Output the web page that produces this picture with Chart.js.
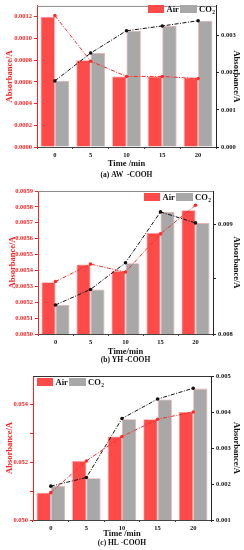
<!DOCTYPE html>
<html>
<head>
<meta charset="utf-8">
<script src="https://cdn.jsdelivr.net/npm/chart.js@4.4.1/dist/chart.umd.min.js"></script>
<style>
  html, body { margin: 0; padding: 0; background: #fff; }
  body { width: 244px; height: 550px; position: relative; overflow: hidden; }
  canvas { position: absolute; left: 0; }
</style>
</head>
<body>
<canvas id="chartA" width="244" height="182" style="top:0px"></canvas>
<canvas id="chartB" width="244" height="184" style="top:182px"></canvas>
<canvas id="chartC" width="244" height="184" style="top:366px"></canvas>
<script>
// shared categories (time, min)
const categories = ['0', '5', '10', '15', '20'];

// (a) AW -COOH
const airA = [0.0012, 0.0008, 0.00065, 0.00065, 0.00064];
const airLineA = [0.00121, 0.00079, 0.00065, 0.00065, 0.00063];
const co2A = [0.00178, 0.00253, 0.00313, 0.00326, 0.0034];
const co2LineA = [0.00178, 0.00253, 0.00313, 0.00326, 0.0034];
const leftTicksA = [0, 0.0002, 0.0004, 0.0006, 0.0008, 0.0010, 0.0012];
const leftLabelsA = ['0.0000', '0.0002', '0.0004', '0.0006', '0.0008', '0.0010', '0.0012'];
const rightTicksA = [0, 0.001, 0.002, 0.003];
const rightLabelsA = ['0.000', '0.001', '0.002', '0.003'];

// (b) YH -COOH
const airB = [0.005326, 0.005438, 0.005397, 0.005635, 0.005779];
const airLineB = [0.00533, 0.00544, 0.00539, 0.00563, 0.00581];
const co2B = [0.008264, 0.008405, 0.008643, 0.00911, 0.00901];
const co2LineB = [0.008264, 0.008405, 0.008648, 0.00911, 0.00901];
const leftTicksB = [0.0050, 0.0051, 0.0052, 0.0053, 0.0054, 0.0055, 0.0056, 0.0057, 0.0058, 0.0059];
const leftLabelsB = ['0.0050', '0.0051', '0.0052', '0.0053', '0.0054', '0.0055', '0.0056', '0.0057', '0.0058', '0.0059'];
const rightTicksB = [0.008, 0.0085, 0.009];
const rightLabelsB = ['0.008', '', '0.009'];

// (c) HL -COOH
const airC = [0.05095, 0.05205, 0.0529, 0.0535, 0.05375];
const airLineC = [0.05095, 0.05205, 0.0529, 0.0535, 0.05375];
const co2C = [0.00195, 0.00216, 0.0038, 0.00435, 0.00465];
const co2LineC = [0.00194, 0.00218, 0.00382, 0.00436, 0.00466];
const leftTicksC = [0.050, 0.051, 0.052, 0.053, 0.054];
const leftLabelsC = ['0.050', '', '0.052', '', '0.054'];
const rightTicksC = [0.001, 0.002, 0.003, 0.004, 0.005];
const rightLabelsC = ['0.001', '0.002', '0.003', '0.004', '0.005'];

const RED = '#ff4a4a';
const RED_TXT = '#ff2020';
const GRAY = '#a8a8a8';
const SERIF = "'Liberation Serif', 'Times New Roman', serif";

// legend inside plot, x title and caption under the axis, top frame line
const panelDecor = {
  id: 'panelDecor',
  afterDraw(chart, args, opts) {
    const ctx = chart.ctx;
    const area = chart.chartArea;
    ctx.save();
    // top frame
    ctx.strokeStyle = opts.topColor;
    ctx.lineWidth = 1;
    ctx.beginPath();
    ctx.moveTo(area.left, area.top + 0.5);
    ctx.lineTo(area.right, area.top + 0.5);
    ctx.stroke();

    // legend
    const lx = opts.legendX, ly = opts.legendY;
    ctx.fillStyle = RED;
    ctx.fillRect(lx, ly, 16, 8);
    ctx.fillStyle = GRAY;
    ctx.fillRect(lx + 32, ly, 17, 8);
    ctx.fillStyle = '#111';
    ctx.textBaseline = 'middle';
    ctx.textAlign = 'left';
    ctx.font = 'bold 8.5px ' + SERIF;
    ctx.fillText('Air', lx + 18.5, ly + 4.5);
    ctx.fillText('CO', lx + 51, ly + 4.5);
    const coW = ctx.measureText('CO').width;
    ctx.font = 'bold 5.5px ' + SERIF;
    ctx.fillText('2', lx + 51 + coW + 0.5, ly + 7.5);

    // x title and caption
    const cx = (area.left + area.right) / 2;
    ctx.textAlign = 'center';
    ctx.font = 'bold 8.5px ' + SERIF;
    ctx.fillText(opts.xTitle, cx, opts.xTitleY);
    ctx.font = 'bold 7.5px ' + SERIF;
    ctx.fillText(opts.caption, cx, opts.captionY);
    ctx.restore();
  }
};

function makePanel(id, p) {
  const tickFont = { family: SERIF, size: 6.5, weight: 'bold' };
  const titleFont = { family: SERIF, size: 8.5, weight: 'bold' };
  return new Chart(document.getElementById(id), {
    type: 'bar',
    data: {
      labels: categories,
      datasets: [
        {
          label: 'Air',
          data: p.air,
          yAxisID: 'y',
          backgroundColor: RED,
          borderColor: '#ff9a9a',
          borderWidth: 0.8,
          categoryPercentage: 0.8,
          barPercentage: 1.0,
          order: 1
        },
        {
          label: 'CO2',
          data: p.co2,
          yAxisID: 'y1',
          backgroundColor: GRAY,
          borderColor: '#f0a8a8',
          borderWidth: 0.8,
          categoryPercentage: 0.8,
          barPercentage: 1.0,
          order: 1
        },
        {
          type: 'line',
          label: 'Air line',
          data: p.airLine,
          yAxisID: 'y',
          borderColor: '#ff2a2a',
          backgroundColor: '#ff2a2a',
          borderWidth: 1,
          borderDash: [4, 1.5, 1, 1.5],
          pointRadius: 1.8,
          pointBorderWidth: 0,
          fill: false,
          order: 0
        },
        {
          type: 'line',
          label: 'CO2 line',
          data: p.co2Line,
          yAxisID: 'y1',
          borderColor: '#111',
          backgroundColor: '#111',
          borderWidth: 1,
          borderDash: [4, 1.5, 1, 1.5],
          pointRadius: 1.8,
          pointBorderWidth: 0,
          fill: false,
          order: 0
        }
      ]
    },
    options: {
      responsive: false,
      animation: false,
      devicePixelRatio: 1,
      layout: { padding: { top: p.top, left: 0, right: 0, bottom: 0 } },
      plugins: {
        legend: { display: false },
        tooltip: { enabled: false },
        title: { display: false },
        panelDecor: {
          topColor: p.topColor,
          legendX: p.legendX, legendY: p.legendY,
          xTitle: p.xTitle, xTitleY: p.xTitleY,
          caption: p.caption, captionY: p.captionY
        }
      },
      scales: {
        x: {
          offset: true,
          grid: { drawOnChartArea: false, offset: true, tickLength: 2, color: '#444' },
          border: { color: '#444', width: 1 },
          ticks: { color: '#111', font: tickFont, padding: 2, maxRotation: 0 },
          afterFit: s => { s.height = p.xHeight; }
        },
        y: {
          position: 'left',
          min: p.leftMin, max: p.leftMax,
          afterBuildTicks: s => { s.ticks = p.leftTicks.map(v => ({ value: v })); },
          ticks: {
            color: RED_TXT, font: tickFont, padding: 2,
            callback: (v, i) => p.leftLabels[i]
          },
          grid: { drawOnChartArea: false, tickLength: 3, color: RED_TXT },
          border: { color: RED_TXT, width: 1 },
          title: { display: true, text: 'Absorbance/A', color: RED_TXT, font: titleFont, padding: { top: p.leftTitlePad, bottom: 0 } },
          afterFit: s => { s.width = p.leftW; }
        },
        y1: {
          position: 'right',
          min: p.rightMin, max: p.rightMax,
          afterBuildTicks: s => { s.ticks = p.rightTicks.map(v => ({ value: v })); },
          ticks: {
            color: '#111', font: tickFont, padding: 2,
            callback: (v, i) => p.rightLabels[i]
          },
          grid: { drawOnChartArea: false, tickLength: 3, color: '#222' },
          border: { color: '#222', width: 1 },
          title: { display: true, text: 'Absorbance/A', color: '#111', font: titleFont, padding: { top: 3, bottom: 0 } },
          afterFit: s => { s.width = p.rightW; }
        }
      }
    },
    plugins: [panelDecor]
  });
}

makePanel('chartA', {
  air: airA, airLine: airLineA, co2: co2A, co2Line: co2LineA,
  leftMin: 0, leftMax: 0.0013, leftTicks: leftTicksA, leftLabels: leftLabelsA,
  rightMin: 0, rightMax: 0.0038, rightTicks: rightTicksA, rightLabels: rightLabelsA,
  top: 3, xHeight: 35, leftW: 37, rightW: 28, leftTitlePad: 5,
  topColor: '#8c8c8c', legendX: 148, legendY: 5,
  xTitle: 'Time /min', xTitleY: 164, caption: '(a) AW  -COOH', captionY: 175
});

makePanel('chartB', {
  air: airB, airLine: airLineB, co2: co2B, co2Line: co2LineB,
  leftMin: 0.005, leftMax: 0.0059, leftTicks: leftTicksB, leftLabels: leftLabelsB,
  rightMin: 0.008, rightMax: 0.0093, rightTicks: rightTicksB, rightLabels: rightLabelsB,
  top: 9, xHeight: 32, leftW: 38, rightW: 31, leftTitlePad: 8,
  topColor: '#8c8c8c', legendX: 144, legendY: 11,
  xTitle: 'Time/min', xTitleY: 170, caption: '(b) YH -COOH', captionY: 178
});

makePanel('chartC', {
  air: airC, airLine: airLineC, co2: co2C, co2Line: co2LineC,
  leftMin: 0.050, leftMax: 0.055, leftTicks: leftTicksC, leftLabels: leftLabelsC,
  rightMin: 0.001, rightMax: 0.005, rightTicks: rightTicksC, rightLabels: rightLabelsC,
  top: 10, xHeight: 30, leftW: 33, rightW: 33, leftTitlePad: 5,
  topColor: '#333', legendX: 37, legendY: 12,
  xTitle: 'Time /min', xTitleY: 168, caption: '(c) HL -COOH', captionY: 177
});
</script>
</body>
</html>
